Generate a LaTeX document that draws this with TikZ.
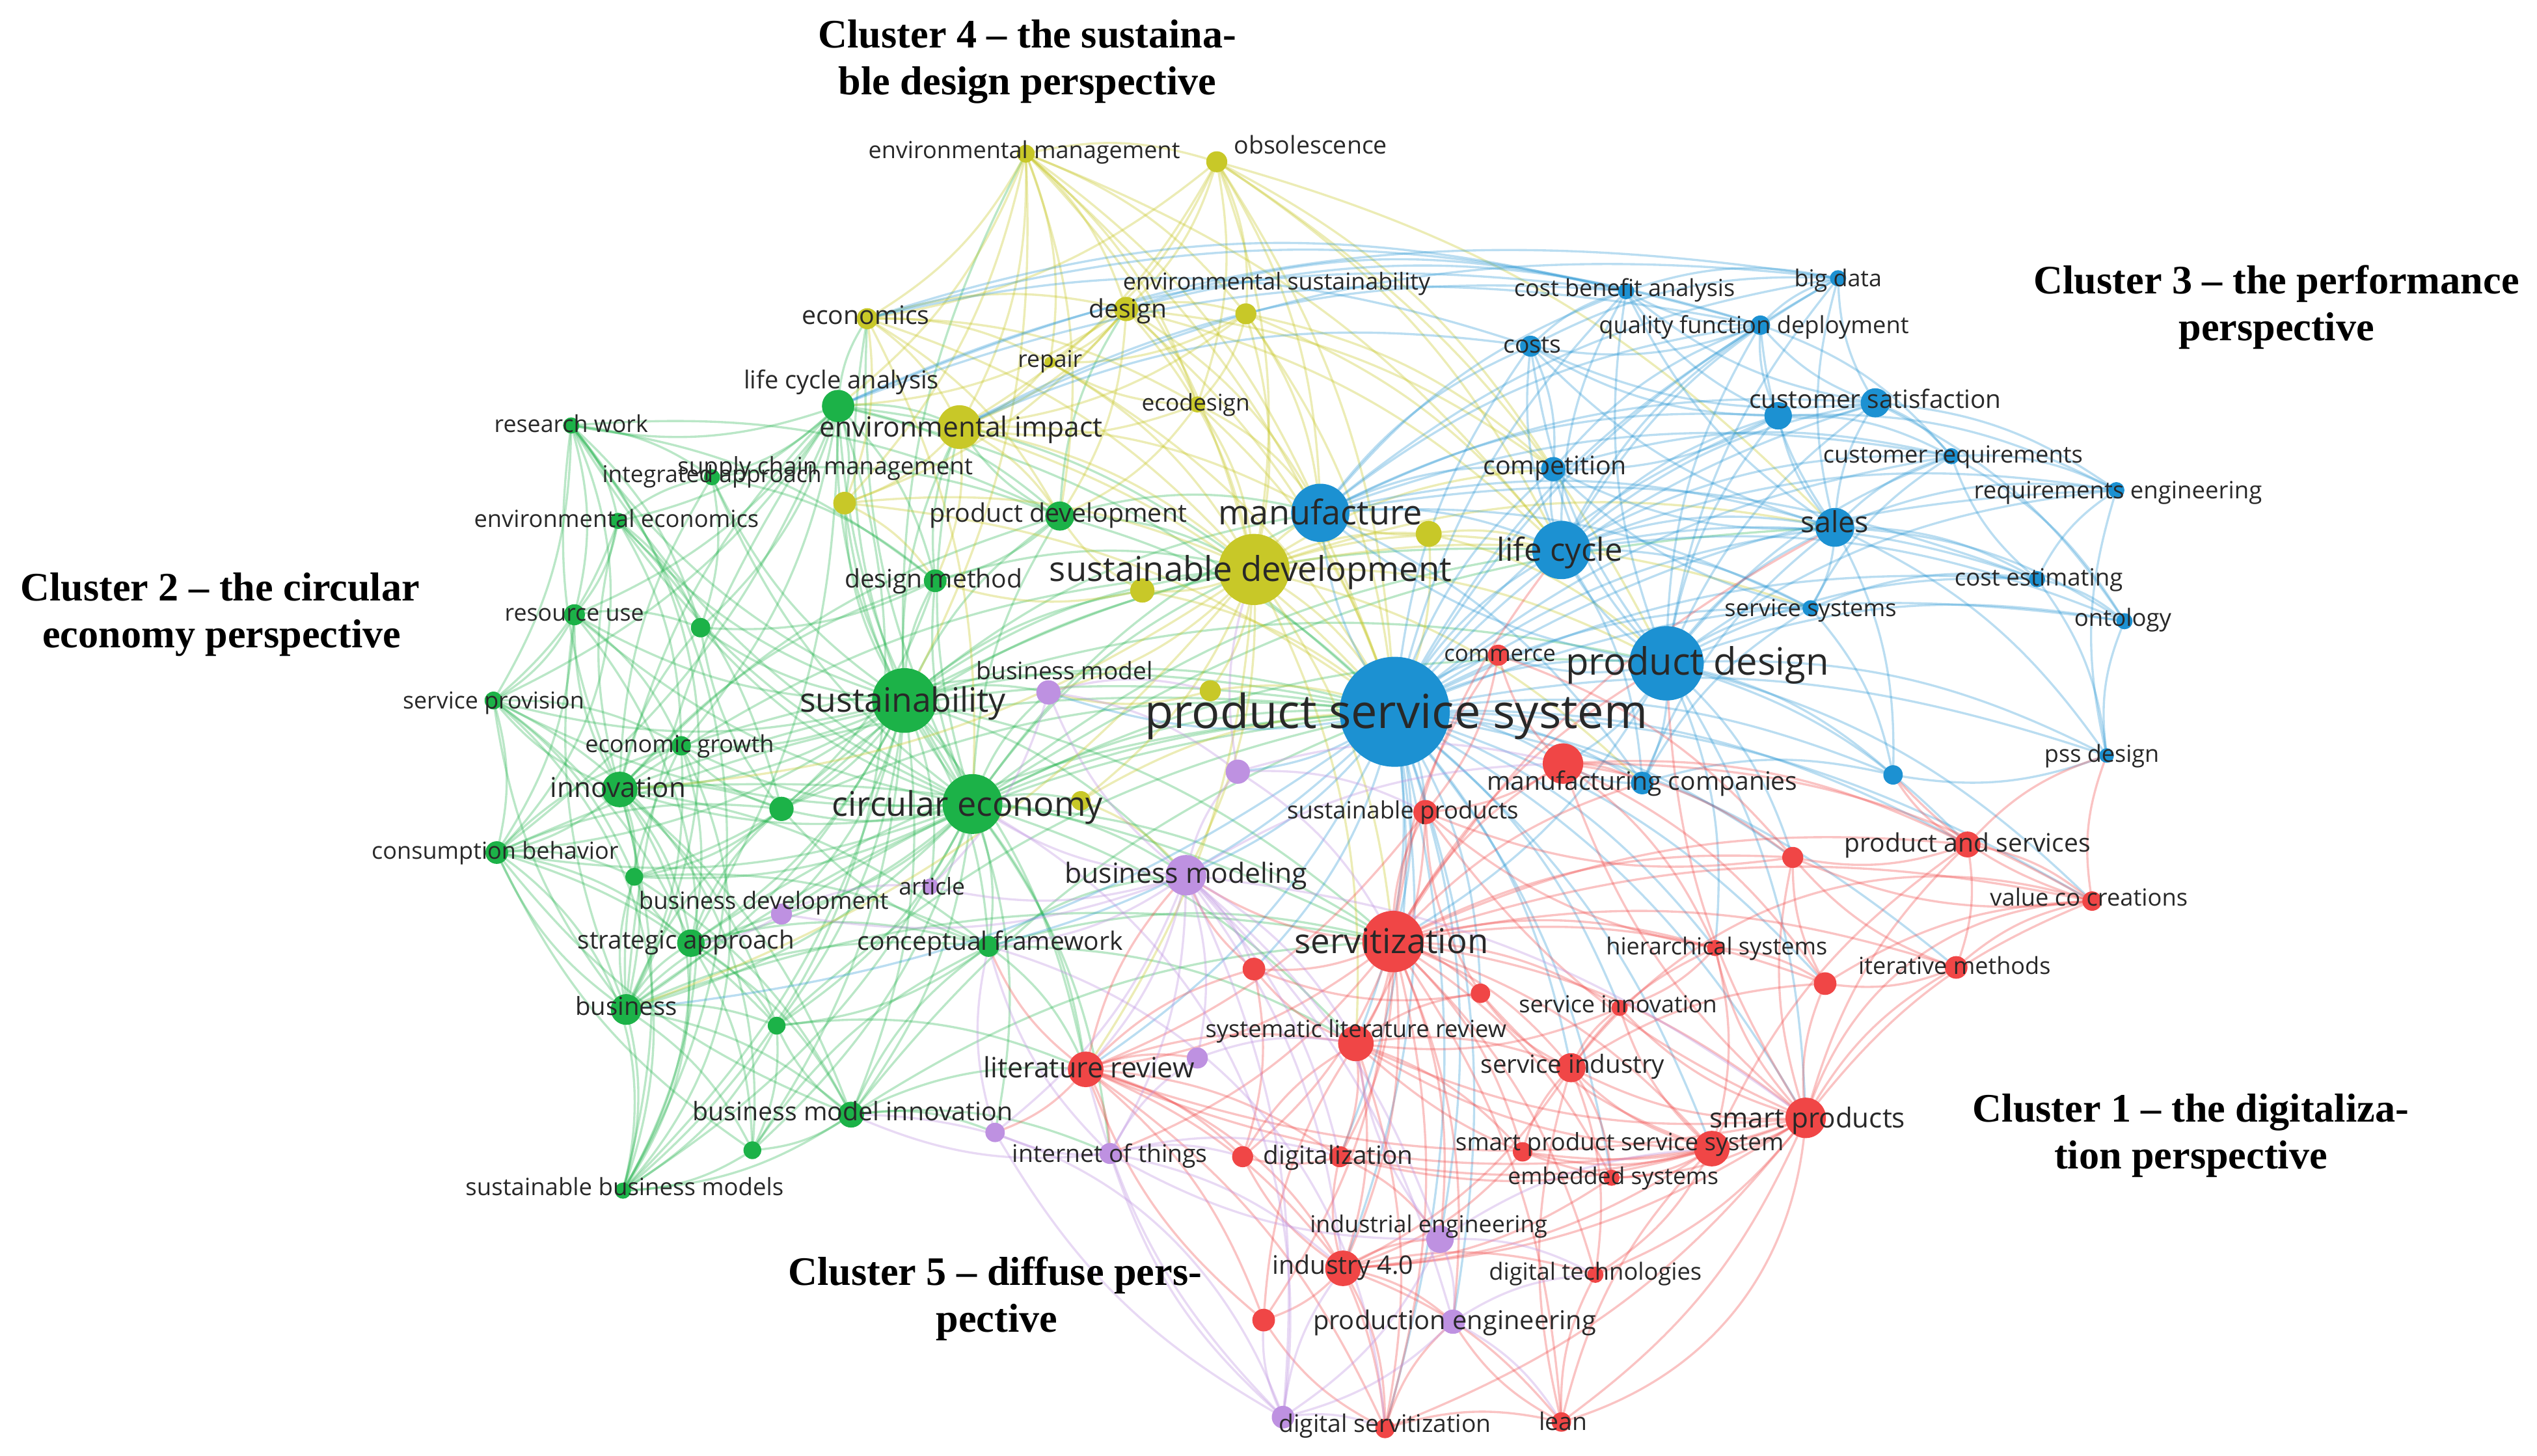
\documentclass[tikz,border=0pt]{standalone}
\usepackage{fontspec}
\setmainfont{Open Sans}
\newfontfamily\clf{Liberation Serif}
\pgfdeclarelayer{edgelayer}
\pgfdeclarelayer{labellayer}
\pgfsetlayers{edgelayer,main,labellayer}
\definecolor{cG}{RGB}{28,178,72}
\definecolor{cY}{RGB}{200,200,40}
\definecolor{cB}{RGB}{28,145,210}
\definecolor{cR}{RGB}{240,70,70}
\definecolor{cP}{RGB}{190,145,225}
\definecolor{txt}{RGB}{40,40,40}
\tikzset{
  kw/.style={circle,inner sep=0pt,draw=none,minimum size=#1},
  lb/.style={font=\fontsize{#1}{#1}\selectfont,text=txt,inner sep=0pt,text height={0.7*#1pt},text depth=0pt},
  cl/.style={font=\clf\bfseries\fontsize{25}{29}\selectfont,text=black,inner sep=0pt,text height=15pt,text depth=0pt},
  eG/.style={draw=cG,line width=1.35pt,draw opacity=0.3},
  eY/.style={draw=cY,line width=1.35pt,draw opacity=0.34},
  eB/.style={draw=cB,line width=1.35pt,draw opacity=0.3},
  eR/.style={draw=cR,line width=1.35pt,draw opacity=0.32},
  eP/.style={draw=cP,line width=1.35pt,draw opacity=0.34},
}
\newcommand\myedges[2]{\foreach \a/\b in {#2}{\draw[#1] (\a.center) to[bend left=15] (\b.center);}}
\newcommand\myarcs[2]{\foreach \a/\b in {#2}{\draw[#1] (\a.center) to[bend right=35] (\b.center);}}
\newcommand\mytops[2]{\foreach \a/\b in {#2}{\draw[#1] (\a.center) to[bend right=16] (\b.center);}}
\begin{document}
\begin{tikzpicture}[x=1pt,y=-1pt]
\useasboundingbox (0,0) rectangle (1568,900);
% ---------- nodes: green ----------
\node[kw=20pt,fill=cG] (lca) at (518,251) {};
\node[kw=10pt,fill=cG] (rw) at (353,263) {};
\node[kw=10pt,fill=cG] (ia) at (440,295) {};
\node[kw=10pt,fill=cG] (ee) at (382,322) {};
\node[kw=13pt,fill=cG] (ru) at (355,380) {};
\node[kw=12pt,fill=cG] (g6) at (433,388) {};
\node[kw=11pt,fill=cG] (sprov) at (305,433) {};
\node[kw=40pt,fill=cG] (sus) at (559,433) {};
\node[kw=12pt,fill=cG] (eg) at (421,461) {};
\node[kw=22pt,fill=cG] (inn) at (383,488) {};
\node[kw=15pt,fill=cG] (g11) at (483,500) {};
\node[kw=37pt,fill=cG] (ce) at (601,497) {};
\node[kw=14pt,fill=cG] (cb) at (307,527) {};
\node[kw=11pt,fill=cG] (g14) at (392,542) {};
\node[kw=17pt,fill=cG] (sa) at (427,583) {};
\node[kw=19pt,fill=cG] (bus) at (387,624) {};
\node[kw=11pt,fill=cG] (g17) at (480,634) {};
\node[kw=13pt,fill=cG] (cf) at (611,585) {};
\node[kw=16pt,fill=cG] (bmi) at (526,689) {};
\node[kw=11pt,fill=cG] (g20) at (465,711) {};
\node[kw=10pt,fill=cG] (sbm) at (385,736) {};
\node[kw=18pt,fill=cG] (pdev) at (655,319) {};
\node[kw=14pt,fill=cG] (dm) at (578,359) {};
% ---------- yellow ----------
\node[kw=11pt,fill=cY] (em) at (634,95) {};
\node[kw=13pt,fill=cY] (obs) at (752,100) {};
\node[kw=13pt,fill=cY] (econ) at (536,197) {};
\node[kw=15pt,fill=cY] (des) at (696,191) {};
\node[kw=13pt,fill=cY] (es) at (770,194) {};
\node[kw=7pt,fill=cY] (rep) at (649,224) {};
\node[kw=10pt,fill=cY] (eco) at (740,250) {};
\node[kw=27pt,fill=cY] (ei) at (593,264) {};
\node[kw=14pt,fill=cY] (scm) at (522,311) {};
\node[kw=44pt,fill=cY] (sd) at (775,352) {};
\node[kw=15pt,fill=cY] (y11) at (706,365) {};
\node[kw=16pt,fill=cY] (y12) at (883,330) {};
\node[kw=13pt,fill=cY] (y13) at (748,427) {};
\node[kw=12pt,fill=cY] (y14) at (668,495) {};
% ---------- blue ----------
\node[kw=68pt,fill=cB] (pss) at (862,440) {};
\node[kw=46pt,fill=cB] (pdes) at (1030,410) {};
\node[kw=36pt,fill=cB] (man) at (816,317) {};
\node[kw=36pt,fill=cB] (lc) at (965,340) {};
\node[kw=15pt,fill=cB] (comp) at (960,290) {};
\node[kw=13pt,fill=cB] (costs) at (946,214) {};
\node[kw=10pt,fill=cB] (cba) at (1005,180) {};
\node[kw=10pt,fill=cB] (bd) at (1136,172) {};
\node[kw=12pt,fill=cB] (qfd) at (1088,201) {};
\node[kw=18pt,fill=cB] (csat) at (1159,249) {};
\node[kw=17pt,fill=cB] (b10) at (1099,257) {};
\node[kw=10pt,fill=cB] (creq) at (1206,282) {};
\node[kw=10pt,fill=cB] (reng) at (1308,303) {};
\node[kw=24pt,fill=cB] (sales) at (1134,326) {};
\node[kw=10pt,fill=cB] (cest) at (1259,358) {};
\node[kw=10pt,fill=cB] (ont) at (1313,384) {};
\node[kw=10pt,fill=cB] (ssys) at (1119,376) {};
\node[kw=14pt,fill=cB] (mc) at (1015,484) {};
\node[kw=12pt,fill=cB] (b18) at (1170,479) {};
\node[kw=9pt,fill=cB] (pssd) at (1302,467) {};
% ---------- red ----------
\node[kw=13pt,fill=cR] (com) at (926,405) {};
\node[kw=25pt,fill=cR] (r2) at (966,472) {};
\node[kw=15pt,fill=cR] (sprod) at (881,502) {};
\node[kw=38pt,fill=cR] (serv) at (861,582) {};
\node[kw=10pt,fill=cR] (hs) at (1060,586) {};
\node[kw=16pt,fill=cR] (ps) at (1216,522) {};
\node[kw=13pt,fill=cR] (r7) at (1108,530) {};
\node[kw=12pt,fill=cR] (vcc) at (1293,557) {};
\node[kw=14pt,fill=cR] (im) at (1209,598) {};
\node[kw=14pt,fill=cR] (r10) at (1128,608) {};
\node[kw=10pt,fill=cR] (sinn) at (1001,623) {};
\node[kw=12pt,fill=cR] (r12) at (915,614) {};
\node[kw=14pt,fill=cR] (r13) at (775,599) {};
\node[kw=22pt,fill=cR] (slr) at (838,645) {};
\node[kw=18pt,fill=cR] (si) at (971,660) {};
\node[kw=22pt,fill=cR] (lr) at (671,661) {};
\node[kw=25pt,fill=cR] (smp) at (1116,691) {};
\node[kw=22pt,fill=cR] (spss) at (1058,710) {};
\node[kw=12pt,fill=cR] (r21) at (941,712) {};
\node[kw=10pt,fill=cR] (emb) at (996,728) {};
\node[kw=13pt,fill=cR] (dig) at (828,715) {};
\node[kw=13pt,fill=cR] (r20b) at (768,715) {};
\node[kw=22pt,fill=cR] (i40) at (830,784) {};
\node[kw=10pt,fill=cR] (dt) at (986,788) {};
\node[kw=14pt,fill=cR] (r23) at (781,816) {};
\node[kw=12pt,fill=cR] (lean) at (965,879) {};
\node[kw=12pt,fill=cR] (ds) at (856,883) {};
% ---------- purple ----------
\node[kw=15pt,fill=cP] (bm) at (648,428) {};
\node[kw=25pt,fill=cP] (bmod) at (733,541) {};
\node[kw=10pt,fill=cP] (art) at (575,548) {};
\node[kw=13pt,fill=cP] (bdev) at (483,565) {};
\node[kw=15pt,fill=cP] (p5) at (765,477) {};
\node[kw=13pt,fill=cP] (p6) at (740,654) {};
\node[kw=13pt,fill=cP] (iot) at (686,713) {};
\node[kw=12pt,fill=cP] (p8) at (615,700) {};
\node[kw=17pt,fill=cP] (ie) at (890,766) {};
\node[kw=15pt,fill=cP] (pe) at (898,817) {};
\node[kw=14pt,fill=cP] (p11) at (793,876) {};
% ---------- edges ----------
\begin{pgfonlayer}{edgelayer}
\fill[white] (0,0) rectangle (1568,900);
\myedges{eG}{sus/lca,sus/rw,sus/ia,sus/ee,sus/ru,sus/g6,sus/sprov,sus/eg,sus/inn,sus/g11,sus/ce,sus/cb,sus/g14,sus/sa,sus/bus,sus/g17,sus/cf,sus/bmi,sus/g20,sus/sbm,sus/pdev,sus/dm,sus/scm,sus/ei,sus/econ,sus/em,sus/pss,sus/sd,sus/man,sus/serv,sus/bmod,sus/bm,sus/lr,sus/pdes,sus/lc,sus/y11,sus/art,sus/bdev}
\myedges{eG}{ce/lca,ce/rw,ce/ia,ce/ee,ce/ru,ce/g6,ce/sprov,ce/eg,ce/inn,ce/g11,ce/cb,ce/g14,ce/sa,ce/bus,ce/g17,ce/cf,ce/bmi,ce/g20,ce/sbm,ce/pdev,ce/dm,ce/pss,ce/sd,ce/ei,ce/serv,ce/bmod,ce/lr,ce/man,ce/scm,ce/econ,ce/bdev,ce/art,ce/iot,ce/lc,ce/pdes,ce/y14,ce/p8,ce/sales,ce/slr,ce/bm}
\myedges{eG}{inn/rw,inn/ia,inn/ee,inn/ru,inn/sprov,inn/eg,inn/cb,inn/g14,inn/sa,inn/bus,inn/g17,inn/bmi,inn/sbm,inn/lca,inn/pdev,inn/pss,inn/g11,inn/dm,inn/g6,inn/cf,inn/sd,inn/serv}
\myedges{eG}{bus/cb,bus/sa,bus/sbm,bus/bmi,bus/g20,bus/g17,bus/sprov,bus/ru,bus/eg,bus/g14,bus/cf,bus/pss,bus/lca,bus/g11,bus/bdev,bus/serv}
\myedges{eG}{lca/rw,lca/ia,lca/ee,lca/ru,lca/sprov,lca/eg,lca/dm,lca/pdev,lca/g6,lca/ei,lca/cb,lca/pss,lca/sd,lca/scm,lca/econ,lca/sa}
\myedges{eG}{rw/ia,rw/ee,rw/ru,rw/g6,rw/dm,rw/pdev,rw/sprov,ee/ia,ee/ru,ee/g6,ee/eg,ee/sprov,ee/g11,ru/sprov,ru/cb,ru/eg,ru/g6,sprov/cb,sprov/eg,sprov/g14,sprov/sa,cb/g14,cb/sa,cb/eg,cb/g11,cb/g17,cb/pss,sa/g14,sa/g17,sa/bmi,sa/cf,sa/g11,sa/g20,sa/pss,sa/sbm,eg/sa,eg/bus,eg/pss}
\myedges{eG}{bmi/g20,bmi/sbm,bmi/cf,bmi/g17,bmi/lr,bmi/pss,bmi/iot,bmi/p8,bmi/serv,bmi/cb,cf/g17,cf/g11,cf/lr,cf/bmod,cf/serv,cf/slr,pdev/dm,pdev/sd,pdev/man,pdev/pss,pdev/ei,pdev/des,dm/g6,dm/g11,dm/sd,dm/ei,g11/eg,g11/g6,g11/g14,g11/pss,g11/sd,g17/g20,g17/sbm,g17/lr,g17/pss,ia/g6,ia/dm,ia/pdev,g14/bmi,g14/cf,g20/sbm,g20/cf,g20/cb,bdev/pss}
\myarcs{eG}{sbm/rw,sbm/ru,sbm/sprov,sbm/cb,bus/rw,cb/rw,sbm/lca,g20/sprov,sbm/inn,sbm/eg}
\myedges{eY}{em/econ,em/des,em/es,em/rep,em/ei,em/sd,em/lca,em/scm,em/eco,em/sus,em/man,em/obs,em/pss,em/pdev,em/lc,obs/des,obs/es,obs/rep,obs/eco,obs/sd,obs/ei,obs/pss,obs/man,obs/lc,obs/econ,obs/pdes,obs/sales,obs/comp}
\myedges{eY}{econ/des,econ/rep,econ/ei,econ/scm,econ/sd,econ/eco,econ/ce,econ/pdev,des/es,des/rep,des/eco,des/ei,des/sd,des/pss,des/man,des/scm,des/lc,des/pdev,des/comp,des/lca,es/eco,es/sd,es/rep,es/pss,es/man,es/lc,es/ei,es/comp,eco/sd,eco/ei,eco/pss,eco/rep,eco/man,eco/pdev,rep/ei,rep/sd,rep/pss}
\myedges{eY}{ei/scm,ei/sd,ei/pss,ei/pdev,ei/dm,ei/man,scm/sd,scm/pss,scm/dm,sd/pss,sd/man,sd/lc,sd/pdes,sd/y11,sd/y12,sd/y13,sd/serv,sd/bmod,sd/sales,sd/mc,sd/bm,sd/comp,sd/y14,sd/inn,sd/bus,sd/lr,sd/slr,sd/ssys,y11/pss,y11/dm,y11/pdev,y12/pss,y12/man,y12/lc,y12/pdes,y13/pss,y13/bm,y14/pss,y14/bmod}
\myedges{eB}{pss/pdes,pss/man,pss/lc,pss/comp,pss/costs,pss/cba,pss/bd,pss/qfd,pss/csat,pss/b10,pss/creq,pss/reng,pss/sales,pss/cest,pss/ont,pss/ssys,pss/mc,pss/b18,pss/pssd,pss/serv,pss/sprod,pss/com,pss/r2,pss/bmod,pss/slr,pss/lr,pss/si,pss/smp,pss/spss,pss/i40,pss/dig,pss/hs,pss/ps,pss/im,pss/vcc,pss/bus,pss/cf,pss/bm,pss/p5,pss/ie,pss/r13,pss/r12,pss/sinn,pss/r10,pss/r7,pss/emb,pss/pe,pss/ds}
\myedges{eB}{pdes/man,pdes/lc,pdes/comp,pdes/costs,pdes/cba,pdes/bd,pdes/qfd,pdes/csat,pdes/b10,pdes/creq,pdes/reng,pdes/sales,pdes/cest,pdes/ont,pdes/ssys,pdes/mc,pdes/b18,pdes/pssd,pdes/serv,pdes/com,pdes/r2,pdes/ps,pdes/smp,pdes/hs,pdes/r7,pdes/vcc}
\myedges{eB}{man/lc,man/comp,man/costs,man/cba,man/qfd,man/csat,man/sales,man/b10,man/mc,man/cest,man/ssys,man/bd,man/creq,lc/comp,lc/costs,lc/cba,lc/bd,lc/qfd,lc/csat,lc/b10,lc/sales,lc/ssys,lc/cest,lc/creq,lc/mc,lc/reng,lc/ont}
\myedges{eB}{sales/csat,sales/b10,sales/creq,sales/reng,sales/cest,sales/ont,sales/qfd,sales/bd,sales/cba,sales/costs,sales/ssys,sales/pssd,sales/comp,sales/b18,csat/b10,csat/creq,csat/qfd,csat/bd,csat/cba,csat/reng,csat/costs,csat/ont,b10/qfd,b10/creq,b10/costs,b10/cba,b10/comp,b10/reng,qfd/cba,qfd/bd,qfd/costs,qfd/creq,costs/cba,costs/comp,costs/bd,comp/creq,comp/qfd,cba/bd,creq/reng,creq/ont,cest/ont,cest/reng,cest/creq,cest/pssd,pssd/ont,pssd/b18,pssd/reng,mc/b18,mc/ssys,mc/r2,mc/sales,ssys/b18,ssys/creq,ssys/cest,ssys/comp}
\mytops{eB}{bd/lca,cba/econ,qfd/lca,costs/econ,cba/lca,qfd/econ,costs/ei,cba/ei,qfd/des,cba/des,bd/ei}
\myedges{eR}{serv/sprod,serv/r2,serv/com,serv/hs,serv/ps,serv/r7,serv/vcc,serv/im,serv/r10,serv/sinn,serv/r12,serv/r13,serv/slr,serv/si,serv/lr,serv/smp,serv/spss,serv/emb,serv/dig,serv/r20b,serv/i40,serv/dt,serv/r23,serv/lean,serv/ds,serv/pdes,serv/bmod,serv/iot,serv/ie,serv/pe,serv/r21,serv/mc,serv/sales,serv/lc}
\myedges{eR}{smp/spss,smp/emb,smp/si,smp/ps,smp/vcc,smp/im,smp/r10,smp/r7,smp/hs,smp/dt,smp/i40,smp/dig,smp/lean,smp/ds,smp/pdes,smp/r2,smp/sinn,smp/r21,smp/lr,smp/slr,smp/sprod,spss/emb,spss/si,spss/i40,spss/dig,spss/dt,spss/slr,spss/sinn,spss/ps,spss/r21,spss/r12,spss/lr}
\myedges{eR}{lr/slr,lr/dig,lr/r20b,lr/i40,lr/r13,lr/iot,lr/p6,lr/p8,lr/ds,lr/r23,lr/bmod,lr/cf,slr/si,slr/dig,slr/i40,slr/r12,slr/r13,slr/ds,slr/r21,si/sinn,si/r10,si/hs,si/dt,si/emb,si/i40,si/r12}
\myedges{eR}{i40/dt,i40/r23,i40/ds,i40/lean,i40/pe,i40/ie,i40/dig,i40/r20b,r2/ps,r2/vcc,r2/r7,r2/mc,r2/com,r2/sprod,r2/hs,r2/r10,ps/vcc,ps/r7,ps/im,ps/pssd,ps/b18,im/vcc,im/r10,im/r7,ds/r23,ds/lean,ds/pe,com/sprod,com/r7,vcc/pssd,vcc/b18,vcc/r7,hs/r10,hs/sinn,hs/spss,hs/sprod,r13/bmod,r13/r20b,lean/dt,lean/pe,lean/si,lean/spss,dig/r20b,dig/ie}
\myedges{eR}{r23/lr,r23/slr,emb/i40,emb/slr,r21/i40,r21/si,r12/r13,r12/sprod,r10/r7,r10/vcc,sinn/slr,r7/sprod,sprod/slr,sprod/lr,r20b/slr}
\myarcs{eR}{vcc/smp,lean/smp,ds/lr,vcc/si}
\myedges{eP}{bmod/bm,bmod/p5,bmod/art,bmod/bdev,bmod/p6,bmod/iot,bmod/p8,bmod/ie,bmod/pe,bmod/p11,bmod/ce,bmod/cf,bmod/lr,bmod/r13,bmod/slr,bmod/dig,bmod/i40,bmod/smp,bmod/r2,ie/pe,ie/p11,ie/iot,ie/dt,ie/slr,ie/spss,pe/p11,pe/lean,pe/dt,p11/ds,p11/i40,p11/iot,p11/p8,p11/lr,p11/r23,iot/p8,iot/p6,iot/bmi,iot/r20b,iot/dig,iot/i40,iot/cf,p8/cf,bm/p5,bm/art,bm/y13,bdev/art,bdev/sa,p5/sprod,p5/r2,p5/serv,p5/sd,p6/slr}
\myarcs{eP}{p11/ce,p11/bmi,ds/cf}
\end{pgfonlayer}
% ---------- labels ----------
\begin{pgfonlayer}{labellayer}
\node[lb=15.3] (l1) at (520,235) {life cycle analysis};
\node[lb=14.4] (l2) at (353,262) {research work};
\node[lb=14.3] (l3) at (440,293) {integrated approach};
\node[lb=14.6] (l4) at (381,321) {environmental economics};
\node[lb=14.4] (l5) at (355,379) {resource use};
\node[lb=14.4] (l6) at (305,433) {service provision};
\node[lb=20.8] (l7) at (558,433) {sustainability};
\node[lb=14.5] (l8) at (420,460) {economic growth};
\node[lb=16.9] (l9) at (382,487) {innovation};
\node[lb=21] (l10) at (598,497) {circular economy};
\node[lb=14.5] (l11) at (306,526) {consumption behavior};
\node[lb=14.7] (l12) at (472,557) {business development};
\node[lb=15.5] (l13) at (424,581) {strategic approach};
\node[lb=15.4] (l14) at (387,622) {business};
\node[lb=15.7] (l15) at (612,582) {conceptual framework};
\node[lb=15.8] (l16) at (527,687) {business model innovation};
\node[lb=14.7] (l17) at (386,734) {sustainable business models};
\node[lb=15.8] (l18) at (654,317) {product development};
\node[lb=15.7] (l19) at (577,358) {design method};
\node[lb=14.5] (l20) at (633,93) {environmental management};
\node[lb=15.1] (l21) at (810,90) {obsolescence};
\node[lb=15.8] (l22) at (535,195) {economics};
\node[lb=15.7] (l23) at (697,191) {design};
\node[lb=14.4] (l24) at (789,174) {environmental sustainability};
\node[lb=14.3] (l25) at (649,222) {repair};
\node[lb=14.2] (l26) at (739,249) {ecodesign};
\node[lb=17.1] (l27) at (594,264) {environmental impact};
\node[lb=14.8] (l28) at (510,288) {supply chain management};
\node[lb=21.2] (l29) at (773,352) {sustainable development};
\node[lb=29] (l30) at (863,440) {product service system};
\node[lb=23.3] (l31) at (1049,409) {product design};
\node[lb=21] (l32) at (816,317) {manufacture};
\node[lb=19.7] (l33) at (964,340) {life cycle};
\node[lb=15.8] (l34) at (961,288) {competition};
\node[lb=15] (l35) at (947,213) {costs};
\node[lb=14.5] (l36) at (1004,178) {cost benefit analysis};
\node[lb=14.4] (l37) at (1136,172) {big data};
\node[lb=14.6] (l38) at (1084,201) {quality function deployment};
\node[lb=15.6] (l39) at (1159,247) {customer satisfaction};
\node[lb=14.6] (l40) at (1207,281) {customer requirements};
\node[lb=14.7] (l41) at (1309,303) {requirements engineering};
\node[lb=18] (l42) at (1134,323) {sales};
\node[lb=14.7] (l43) at (1260,357) {cost estimating};
\node[lb=14.7] (l44) at (1312,382) {ontology};
\node[lb=14.6] (l45) at (1119,376) {service systems};
\node[lb=15.7] (l46) at (1015,483) {manufacturing companies};
\node[lb=14.5] (l47) at (1299,466) {pss design};
\node[lb=14] (l48) at (927,404) {commerce};
\node[lb=14.7] (l49) at (867,501) {sustainable products};
\node[lb=21.2] (l50) at (860,582) {servitization};
\node[lb=14.5] (l51) at (1061,585) {hierarchical systems};
\node[lb=15.7] (l52) at (1216,521) {product and services};
\node[lb=14.6] (l53) at (1291,555) {value co creations};
\node[lb=14.5] (l54) at (1208,597) {iterative methods};
\node[lb=14.5] (l55) at (1000,621) {service innovation};
\node[lb=14.6] (l56) at (838,636) {systematic literature review};
\node[lb=15.5] (l57) at (972,658) {service industry};
\node[lb=17.3] (l58) at (673,660) {literature review};
\node[lb=17] (l59) at (1117,691) {smart products};
\node[lb=14.8] (l60) at (1001,706) {smart product service system};
\node[lb=14.3] (l61) at (997,727) {embedded systems};
\node[lb=15.6] (l62) at (827,714) {digitalization};
\node[lb=14.4] (l63) at (883,757) {industrial engineering};
\node[lb=15.8] (l64) at (830,782) {industry 4.0};
\node[lb=14.6] (l65) at (986,786) {digital technologies};
\node[lb=16] (l66) at (899,816) {production engineering};
\node[lb=15] (l67) at (966,879) {lean};
\node[lb=15] (l68) at (856,880) {digital servitization};
\node[lb=14.9] (l69) at (658,415) {business model};
\node[lb=17.2] (l70) at (733,540) {business modeling};
\node[lb=14.3] (l71) at (576,548) {article};
\node[lb=15] (l72) at (686,713) {internet of things};
% cluster labels
\node[cl] (c4a) at (635,22) {Cluster 4 – the sustaina-};
\node[cl] (c4b) at (635,51) {ble design perspective};
\node[cl] (c3a) at (1407,174) {Cluster 3 – the performance};
\node[cl] (c3b) at (1407,203) {perspective};
\node[cl] (c2a) at (136,364) {Cluster 2 – the circular};
\node[cl] (c2b) at (137,393) {economy perspective};
\node[cl] (c1a) at (1354,686) {Cluster 1 – the digitaliza-};
\node[cl] (c1b) at (1354,715) {tion perspective};
\node[cl] (c5a) at (615,787) {Cluster 5 – diffuse pers-};
\node[cl] (c5b) at (616,816) {pective};
\end{pgfonlayer}
\end{tikzpicture}
\end{document}
